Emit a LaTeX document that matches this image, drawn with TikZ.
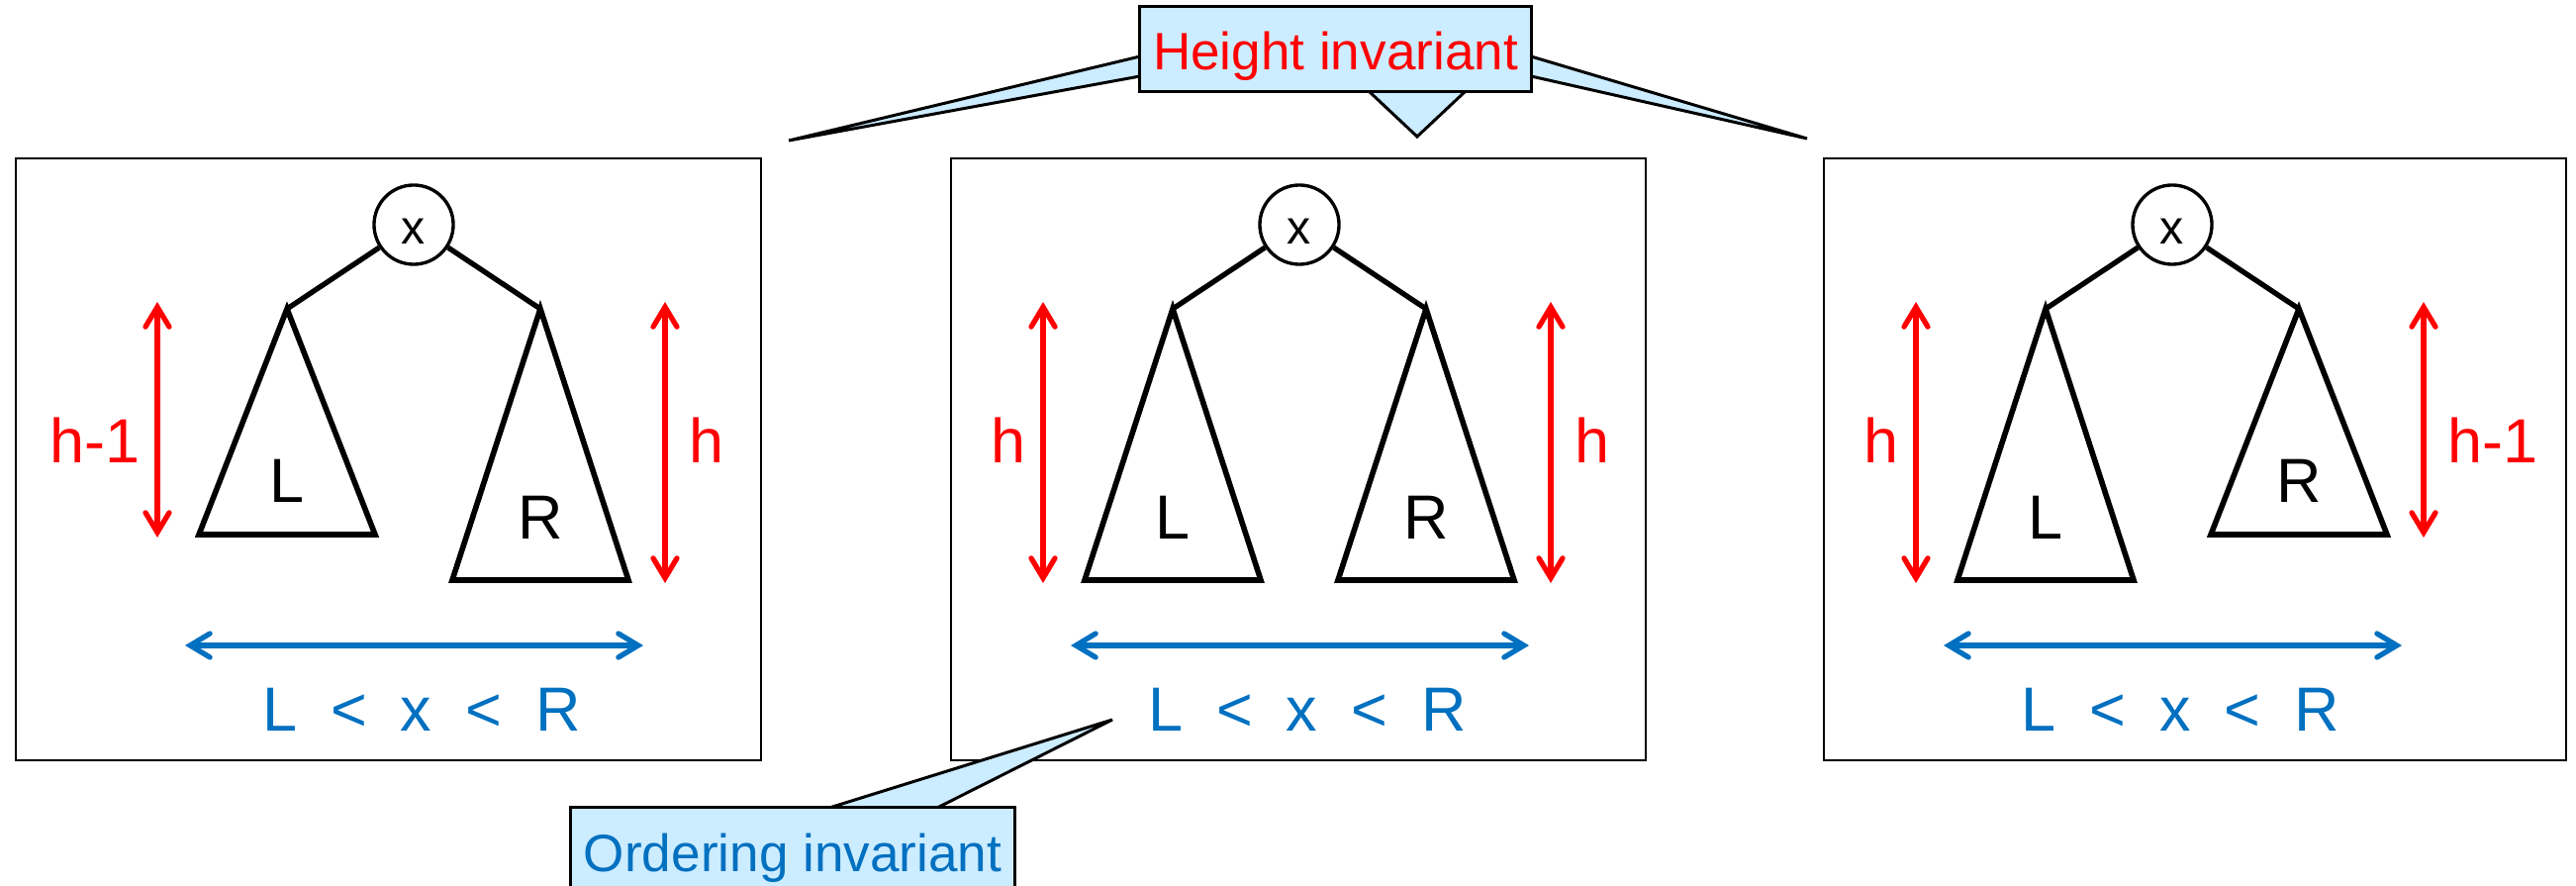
\documentclass[tikz,border=0pt]{standalone}
\usepackage{fontspec}
\setmainfont{Liberation Sans}
\usetikzlibrary{arrows.meta}
\definecolor{calloutblue}{RGB}{204,236,255}
\definecolor{ordblue}{RGB}{0,112,192}
\definecolor{hred}{RGB}{255,0,0}

\newcommand{\treepanel}[6]{%
  % #1 id, #2 root x, #3 left base y, #4 right base y, #5 left height label, #6 right height label
  \node[rootnode] (#1x) at (#2,227) {x};
  \coordinate (#1la) at ({#2-128},312);
  \coordinate (#1ra) at ({#2+128},312);
  \draw[treeedge] (#1x) -- (#1la);
  \draw[treeedge] (#1x) -- (#1ra);
  \draw[subtree] (#1la) -- ({#2-128-89},#3) -- ({#2-128+89},#3) -- cycle;
  \draw[subtree] (#1ra) -- ({#2+128-89},#4) -- ({#2+128+89},#4) -- cycle;
  \node[treelabel] (#1Ltxt) at ({#2-128},{#3-32-(#3-540)*0.196}) {L};
  \node[treelabel] (#1Rtxt) at ({#2+128},{#4-32-(#4-540)*0.196}) {R};
  \coordinate (#1hlt) at ({#2-259},305);
  \coordinate (#1hlb) at ({#2-259},{#3+3});
  \coordinate (#1hrt) at ({#2+254},305);
  \coordinate (#1hrb) at ({#2+254},{#4+3});
  \draw[hgtarrow] (#1hlt) -- (#1hlb);
  \draw[hgtarrow] (#1hrt) -- (#1hrb);
  \node[hgtlabel, anchor=base east] (#1hl) at ({#2-259-17},468) {#5};
  \node[hgtlabel, anchor=base west] (#1hr) at ({#2+254+24},468) {#6};
  \coordinate (#1ol) at ({#2-231},652);
  \coordinate (#1or) at ({#2+232},652);
  \draw[ordarrow] (#1ol) -- (#1or);
  \node[ordlabel] (#1otxt) at ({#2+8},739) {L\hspace{0.34cm}<\hspace{0.34cm}x\hspace{0.34cm}<\hspace{0.34cm}R};
}

\begin{document}
\begin{tikzpicture}[x=0.01cm,y=-0.01cm,
  panel/.style={draw, line width=0.7pt},
  rootnode/.style={circle, draw, line width=0.95pt, minimum size=0.8cm, inner sep=0pt,
    text height=0.4cm, text depth=0pt, font=\fontsize{13.7}{16}\selectfont},
  treeedge/.style={line width=1.5pt},
  subtree/.style={line width=1.6pt, line join=miter},
  treelabel/.style={anchor=base, inner sep=0pt, font=\fontsize{17.9}{20}\selectfont},
  hgtarrow/.style={draw=hred, line width=1.5pt,
    {Straight Barb[length=0.2cm,width=0.24cm,line cap=round]}-{Straight Barb[length=0.2cm,width=0.24cm,line cap=round]}},
  hgtlabel/.style={text=hred, inner sep=0pt, font=\fontsize{17.9}{20}\selectfont},
  ordarrow/.style={draw=ordblue, line width=1.5pt,
    {Straight Barb[length=0.2cm,width=0.24cm,line cap=round]}-{Straight Barb[length=0.2cm,width=0.24cm,line cap=round]}},
  ordlabel/.style={text=ordblue, anchor=base, inner sep=0pt, font=\fontsize{17.9}{20}\selectfont},
  callout/.style={fill=calloutblue, draw, line width=0.85pt},
  calloutbox/.style={callout, minimum height=0.85cm, inner sep=0pt,
    text height=0.43cm, text depth=0pt, font=\fontsize{15.1}{18}\selectfont},
]
\useasboundingbox (0,0) rectangle (2603,895);

% panels
\draw[panel] (16,160) rectangle (769,768);
\draw[panel] (961,160) rectangle (1663,768);
\draw[panel] (1843,160) rectangle (2593,768);

\treepanel{a}{418}{540}{586}{h-1}{h}
\treepanel{b}{1313}{586}{586}{h}{h}
\treepanel{c}{2195}{586}{540}{h}{h-1}

% height invariant callout
\filldraw[callout, line join=miter] (1152,57) -- (797,142) -- (1152,77);
\filldraw[callout, line join=miter] (1547,57) -- (1826,140) -- (1547,77);
\filldraw[callout, line join=miter] (1383,92) -- (1432,138) -- (1481,92);
\node[calloutbox, minimum width=3.95cm, text=hred] (hinv) at (1349.5,49.5) {Height invariant};

% ordering invariant callout
\filldraw[callout, line join=miter] (838,816) -- (1124,727) -- (947,816);
\node[calloutbox, minimum width=4.48cm, text=ordblue] (oinv) at (801,858.5) {Ordering invariant};
\end{tikzpicture}
\end{document}
